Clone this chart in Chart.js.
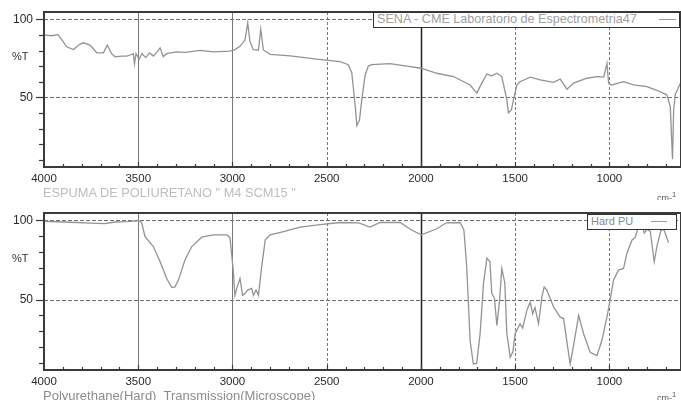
<!DOCTYPE html>
<html>
<head>
<meta charset="utf-8">
<script src="https://cdn.jsdelivr.net/npm/chart.js@4.4.1/dist/chart.umd.min.js"></script>
<style>
  body { margin: 0; background: #fff; font-family: "Liberation Sans", Arial, sans-serif; }
  .panel { position: absolute; left: 0; width: 681px; height: 200px; overflow: hidden; }
  .panel canvas { position: absolute; left: 0; top: 0; }
  .unit { position: absolute; left: 12px; font-size: 11px; line-height: 13px; color: #333; }
  .caption { position: absolute; left: 43px; line-height: 14px; white-space: nowrap; }
  .cm { position: absolute; left: 657px; font-size: 9px; line-height: 11px; color: #555; white-space: nowrap; }
  .tag { position: absolute; box-sizing: border-box; height: 16px; border: 1.5px solid #333; background: #fff;
         font-size: 11px; line-height: 13px; white-space: nowrap; padding-left: 3px; }
  .tag i { position: absolute; top: 6px; height: 0; border-top: 1px solid #999; }
</style>
</head>
<body>

<div class="panel" style="top: 0">
  <canvas id="foam-chart" width="681" height="200"></canvas>
  <div class="unit" style="top: 50px">%T</div>
  <div class="tag" style="left: 373px; top: 12px; width: 307px; font-size: 12.6px; color: #a0a0a0">SENA - CME Laboratorio de Espectrometria47<i style="left: 285px; width: 17px"></i></div>
  <div class="caption" style="top: 186px; font-size: 12.8px; color: #bdbdbd">ESPUMA DE POLIURETANO " M4 SCM15 "</div>
  <div class="cm" style="top: 189px">cm-<sup>1</sup></div>
</div>

<div class="panel" style="top: 200px">
  <canvas id="hard-chart" width="681" height="200"></canvas>
  <div class="unit" style="top: 52px">%T</div>
  <div class="tag" style="left: 587px; top: 14px; width: 90px; color: #8a8a8a">Hard PU<i style="left: 63px; width: 16px"></i></div>
  <div class="caption" style="top: 189px; font-size: 13px; color: #8c8c8c">Polyurethane(Hard)&nbsp; Transmission(Microscope)</div>
  <div class="cm" style="top: 189px">cm-<sup>1</sup></div>
</div>

<script>
// wavenumber axis (cm-1), plotted high to low
const xMax = 4000;
const xMin = 620;
const xTickValues = [4000, 3500, 3000, 2500, 2000, 1500, 1000];

// transmittance axis (%T)
const yMin = 5.5;
const yMax = 104.7;
const yTickValues = [50, 100];

// polyurethane foam, M4 SCM15
const foamLabel = "SENA - CME Laboratorio de Espectrometria47";
const foamWn = [4000, 3960, 3926, 3900, 3880, 3844, 3810, 3791, 3756, 3720, 3685, 3664, 3641, 3623, 3590,
  3561, 3535, 3526, 3520, 3512, 3495, 3480, 3460, 3440, 3420, 3400, 3384, 3367, 3350, 3296, 3250, 3172,
  3100, 3013, 2986, 2960, 2933, 2919, 2907, 2889, 2862, 2850, 2836, 2800, 2694, 2553, 2429, 2385, 2367,
  2349, 2340, 2326, 2314, 2296, 2279, 2261, 2164, 2075, 1999, 1916, 1827, 1739, 1703, 1677, 1650, 1625,
  1597, 1571, 1544, 1536, 1520, 1509, 1491, 1474, 1420, 1367, 1296, 1261, 1225, 1190, 1119, 1066, 1030,
  1013, 1004, 987, 925, 872, 801, 748, 695, 677, 665, 659, 650, 624];
const foamT = [90, 89.5, 90.2, 86, 82.4, 80.7, 84, 85, 83.5, 78.6, 78.6, 83.5, 78, 76, 76.5,
  76.5, 77.5, 78, 71.5, 78, 74.5, 78, 75.5, 78.5, 76.5, 79, 81.8, 76.2, 78, 79.2, 78.8, 80.2,
  79.2, 79.7, 80.6, 82.7, 86.9, 97.8, 85.6, 80.6, 80.4, 93.6, 80.4, 77.6, 76.6, 74.5, 73, 71, 65.9,
  45, 32, 35.6, 48.5, 64.4, 70.1, 71, 71.7, 70.1, 68.7, 65.5, 63.4, 58, 52.8, 59.2, 65, 63.8,
  65.5, 63.4, 48.5, 40.1, 42, 48.5, 58, 60.1, 63, 61.3, 59.7, 61.8, 55.3, 59.2, 62.3, 63.4, 63,
  71.8, 59.2, 58, 60.1, 58, 57, 54.6, 51.7, 44.3, 10.4, 42, 52, 59];

// hard polyurethane, microscope transmission
const hardLabel = "Hard PU";
const hardWn = [4000, 3900, 3827, 3750, 3680, 3620, 3560, 3500, 3482, 3464, 3420, 3384, 3349, 3322, 3305,
  3287, 3252, 3216, 3163, 3101, 3030, 3013, 2996, 2987, 2975, 2960, 2946, 2932, 2920, 2898, 2889, 2875,
  2862, 2845, 2826, 2800, 2729, 2641, 2535, 2429, 2330, 2270, 2217, 2110, 2053, 1998, 1918, 1865, 1792,
  1772, 1757, 1739, 1722, 1704, 1686, 1668, 1650, 1634, 1624, 1610, 1597, 1583, 1571, 1555, 1544, 1526,
  1512, 1500, 1474, 1460, 1438, 1420, 1407, 1395, 1376, 1358, 1346, 1332, 1296, 1261, 1243, 1216, 1208,
  1190, 1163, 1137, 1102, 1066, 1040, 1013, 996, 978, 952, 925, 907, 880, 864, 845, 827, 815, 800, 783,
  762, 748, 727, 712, 698, 686];
const hardT = [99.5, 99, 98.7, 98.3, 98, 99, 99.3, 99.8, 98.7, 89.8, 83.5, 73.9, 63.3, 57.6, 58,
  62.3, 75, 83.5, 89.4, 90.9, 90.9, 89.1, 68.6, 52.7, 58, 63.3, 52.7, 54, 56, 57, 52.7, 56,
  52.7, 70.8, 87.7, 90.9, 93, 95.8, 97.3, 98.7, 98.5, 95.8, 98.7, 98.7, 94.1, 90.9, 94.6, 98.5, 98.7,
  94, 70.7, 24.1, 9.3, 9.7, 28.4, 60.2, 76.1, 74, 53.8, 51, 33.7, 49, 69.7, 60.5, 28.4, 13.5,
  17, 28.4, 34.7, 32, 43.2, 48.5, 41, 45, 34.7, 51.7, 58, 56, 45.3, 38.9, 38, 15.6, 9.3,
  21, 40, 28.4, 16.7, 14.6, 24.1, 38.9, 49.6, 62.3, 68.6, 69.7, 79.3, 87.7, 89, 96.2, 97, 92, 94.5, 93,
  73.9, 83.5, 93.5, 94.5, 90, 86];

const hline = (ctx, x1, y1, x2, y2) => {
  ctx.beginPath();
  ctx.moveTo(x1, y1);
  ctx.lineTo(x2, y2);
  ctx.stroke();
};

// grid, frame and minor ticks in the old instrument style
const spectrumFrame = {
  id: "spectrumFrame",
  beforeDatasetsDraw(chart) {
    const { ctx, chartArea: a, scales: { x, y } } = chart;
    ctx.save();
    ctx.lineWidth = 1;
    ctx.strokeStyle = "#6e6e6e";
    ctx.setLineDash([4, 2]);
    yTickValues.forEach((v) => {
      const py = Math.round(y.getPixelForValue(v)) + 0.5;
      hline(ctx, a.left, py, a.right, py);
    });
    xTickValues.forEach((v) => {
      const px = Math.round(x.getPixelForValue(v)) + 0.5;
      if (v === 4000) return;
      if (v === 2000) {
        ctx.setLineDash([]);
        ctx.strokeStyle = "#222";
        ctx.lineWidth = 1.5;
      } else if (v === 3500 || v === 3000) {
        ctx.setLineDash([]);
        ctx.strokeStyle = "#7a7a7a";
        ctx.lineWidth = 1;
      } else {
        ctx.setLineDash([3, 2]);
        ctx.strokeStyle = "#7a7a7a";
        ctx.lineWidth = 1;
      }
      hline(ctx, px, a.top, px, a.bottom);
    });
    ctx.restore();
  },
  afterDatasetsDraw(chart) {
    const { ctx, chartArea: a, scales: { x, y } } = chart;
    ctx.save();
    ctx.strokeStyle = "#3a3a3a";
    ctx.lineWidth = 1.2;
    for (let v = 10; v <= 100; v += 10) {
      const py = Math.round(y.getPixelForValue(v)) + 0.5;
      hline(ctx, a.left - (v % 50 === 0 ? 8 : 5), py, a.left, py);
    }
    for (let v = 3900; v > xMin; v -= 100) {
      const px = Math.round(x.getPixelForValue(v)) + 0.5;
      hline(ctx, px, a.bottom, px, a.bottom - (v % 500 === 0 ? 5 : 3));
    }
    ctx.lineWidth = 2;
    ctx.strokeRect(a.left, a.top, a.right - a.left, a.bottom - a.top);
    ctx.restore();
  },
};

function drawSpectrum(id, label, wn, t, padTop, axisHeight) {
  const canvas = document.getElementById(id);
  return new Chart(canvas, {
    type: "line",
    data: {
      datasets: [{
        label,
        data: wn.map((v, i) => ({ x: v, y: t[i] })),
        borderColor: "#939393",
        borderWidth: 1.3,
        pointRadius: 0,
        fill: false,
        tension: 0,
      }],
    },
    options: {
      responsive: false,
      animation: false,
      devicePixelRatio: 1,
      layout: { padding: { top: padTop, left: 0, right: 0, bottom: 0 } },
      plugins: { legend: { display: false }, tooltip: { enabled: false } },
      scales: {
        x: {
          type: "linear",
          reverse: true,
          min: xMin,
          max: xMax,
          grid: { display: false, drawTicks: false },
          border: { display: false },
          afterBuildTicks: (scale) => { scale.ticks = xTickValues.map((value) => ({ value })); },
          afterFit: (scale) => {
            scale.height = axisHeight;
            scale.paddingLeft = 0;
            scale.paddingRight = 0;
          },
          ticks: {
            autoSkip: false,
            maxRotation: 0,
            padding: 5,
            color: "#2a2a2a",
            font: { family: "Liberation Sans", size: 11.5 },
            callback: (value) => String(value),
          },
        },
        y: {
          min: yMin,
          max: yMax,
          grid: { display: false, drawTicks: false },
          border: { display: false },
          afterBuildTicks: (scale) => { scale.ticks = yTickValues.map((value) => ({ value })); },
          afterFit: (scale) => {
            scale.width = 44;
            scale.paddingTop = 0;
            scale.paddingBottom = 0;
          },
          ticks: {
            padding: 11,
            color: "#2a2a2a",
            font: { family: "Liberation Sans", size: 12 },
            callback: (value) => String(value),
          },
        },
      },
    },
    plugins: [spectrumFrame],
  });
}

drawSpectrum("foam-chart", foamLabel, foamWn, foamT, 12, 33);
drawSpectrum("hard-chart", hardLabel, hardWn, hardT, 13, 30);
</script>
</body>
</html>
